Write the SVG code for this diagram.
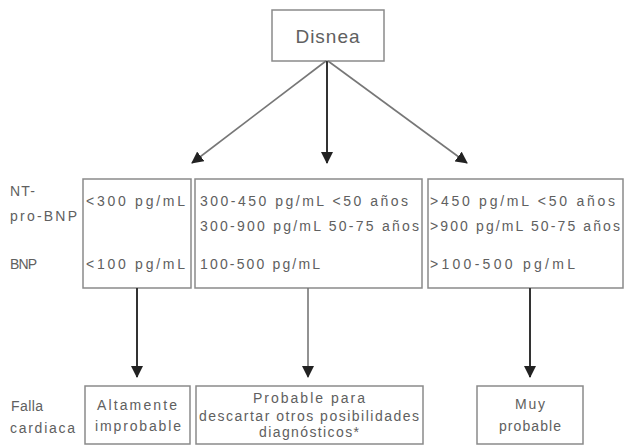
<svg xmlns="http://www.w3.org/2000/svg" width="626" height="446" viewBox="0 0 626 446">
<style>
.box{fill:#fff;stroke:#8a8a8a;stroke-width:1.5}
text{font-family:"Liberation Sans",Arial,sans-serif;fill:#606060;font-size:14px}
.big{font-size:19px;letter-spacing:1px}
.c{text-anchor:middle}
.ln{stroke:#777;stroke-width:1.6;fill:none}
.dk{stroke:#333;stroke-width:2;fill:none}
</style>
<defs>
<marker id="ah" markerUnits="userSpaceOnUse" markerWidth="12" markerHeight="12" viewBox="0 0 12 12" refX="11" refY="6" orient="auto">
<path d="M0,0 L12,6 L0,12 Z" fill="#222"/>
</marker>
</defs>
<rect width="626" height="446" fill="#fff"/>
<g id="disnea">
<rect class="box" x="272" y="10" width="112" height="51"/>
<text class="big c" x="328" y="43">Disnea</text>
</g>
<g id="labels">
<text x="10" y="196" textLength="25">NT-</text>
<text x="10" y="221" textLength="67">pro-BNP</text>
<text x="10" y="269" textLength="27">BNP</text>
<text x="11" y="411" textLength="32">Falla</text>
<text x="10" y="433" textLength="65">cardiaca</text>
</g>
<g id="n1">
<rect class="box" x="83" y="179" width="108" height="109"/>
<text x="86" y="206" textLength="99">&lt;300 pg/mL</text>
<text x="86" y="269" textLength="99">&lt;100 pg/mL</text>
</g>
<g id="n2">
<rect class="box" x="195" y="179" width="227" height="109"/>
<text x="200" y="206" textLength="208">300-450 pg/mL  &lt;50 años</text>
<text x="200" y="231" textLength="219">300-900 pg/mL 50-75 años</text>
<text x="200" y="269" textLength="120">100-500 pg/mL</text>
</g>
<g id="n3">
<rect class="box" x="428" y="179" width="195" height="109"/>
<text x="430" y="206" textLength="185">&gt;450 pg/mL  &lt;50 años</text>
<text x="430" y="231" textLength="190">&gt;900 pg/mL 50-75 años</text>
<text x="430" y="269" textLength="145">&gt;100-500 pg/mL</text>
</g>
<g id="r1">
<rect class="box" x="85" y="386" width="105" height="58"/>
<text class="c" x="137" y="410" textLength="80">Altamente</text>
<text class="c" x="138" y="431" textLength="86">improbable</text>
</g>
<g id="r2">
<rect class="box" x="196" y="386" width="227" height="58"/>
<text class="c" x="309" y="403" textLength="112">Probable para</text>
<text class="c" x="309" y="421" textLength="220">descartar otros posibilidades</text>
<text class="c" x="309" y="437" textLength="100">diagnósticos*</text>
</g>
<g id="r3">
<rect class="box" x="477" y="386" width="106" height="58"/>
<text class="c" x="530" y="409" textLength="30">Muy</text>
<text class="c" x="530" y="431" textLength="62">probable</text>
</g>
<g id="connectors">
<path class="ln" d="M326,61 L192,163" marker-end="url(#ah)"/>
<path class="dk" d="M327,61 L327,163" marker-end="url(#ah)"/>
<path class="ln" d="M328,61 L467,163" marker-end="url(#ah)"/>
<path class="dk" d="M137,288 L137,377" marker-end="url(#ah)"/>
<path class="ln" d="M308,288 L308,377" marker-end="url(#ah)"/>
<path class="dk" d="M530,288 L530,377" marker-end="url(#ah)"/>
</g>
</svg>
